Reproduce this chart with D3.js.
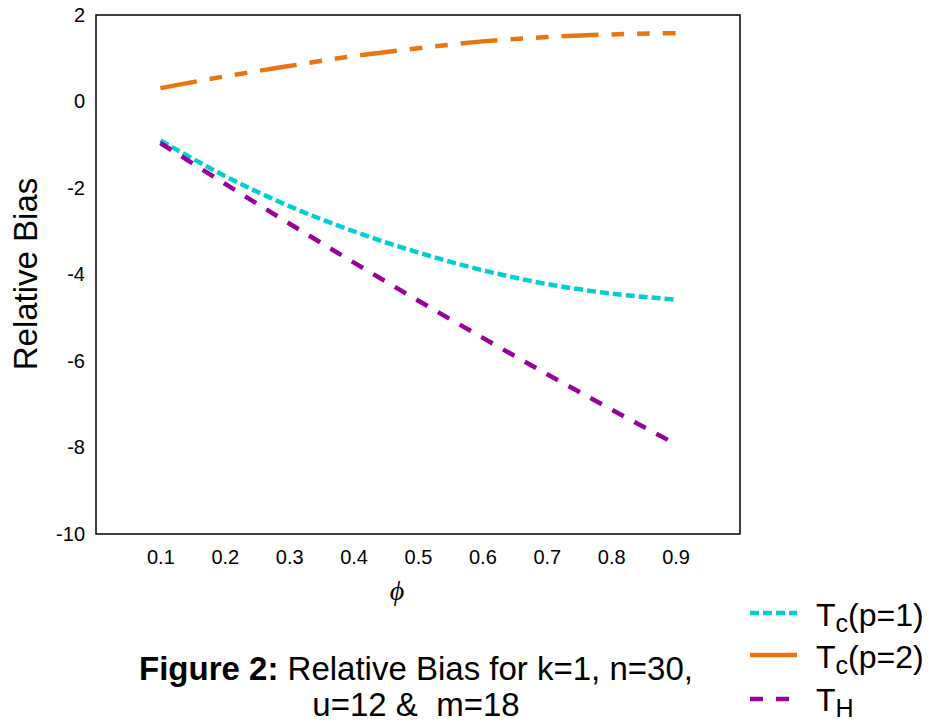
<!DOCTYPE html>
<html>
<head>
<meta charset="utf-8">
<script src="https://cdn.jsdelivr.net/npm/d3@7"></script>
<style>
  body { margin: 0; background: #fff; }
  text { font-family: "Liberation Sans", Arial, sans-serif; }
</style>
</head>
<body>
<svg id="chart" width="933" height="725"></svg>
<script>
const phi = [0.1, 0.2, 0.3, 0.4, 0.5, 0.6, 0.7, 0.8, 0.9];
const tcP1 = [-0.90, -1.72, -2.42, -3.00, -3.49, -3.90, -4.22, -4.44, -4.58];
const tcP2 = [0.31, 0.58, 0.82, 1.05, 1.23, 1.39, 1.49, 1.55, 1.58];
const tH   = [-0.96, -1.90, -2.82, -3.72, -4.60, -5.46, -6.30, -7.12, -7.92];
const yTicks = [2, 0, -2, -4, -6, -8, -10];
const xTicks = [0.1, 0.2, 0.3, 0.4, 0.5, 0.6, 0.7, 0.8, 0.9];

const series = [
  { name: "p=1", sub: "c", values: tcP1, color: "#00CED1", dash: "9,4", legendDash: "9,4" },
  { name: "p=2", sub: "c", values: tcP2, color: "#E87511", dash: "37,13,12.6,13,12.6,13", legendDash: null },
  { name: "", sub: "H", values: tH, color: "#990099", dash: "13,12", legendDash: "13,13" }
];

const svg = d3.select("#chart");
const mLeft = 96, mRight = 740, mTop = 15, mBottom = 534;
const x = d3.scaleLinear().domain([0, 1]).range([mLeft, mRight]);
const y = d3.scaleLinear().domain([-10, 2]).range([mBottom, mTop]);

// axes
const xAxis = svg.append("g").attr("transform", `translate(0,${mBottom})`)
  .call(d3.axisBottom(x).tickValues(xTicks).tickSize(0).tickPadding(16).tickFormat(d3.format(".1f")));
xAxis.select(".domain").remove();
xAxis.attr("font-size", 20).attr("font-family", null);
xAxis.selectAll("text").attr("fill", "#000");

const yAxis = svg.append("g").attr("transform", `translate(${mLeft},0)`)
  .call(d3.axisLeft(y).tickValues(yTicks).tickSize(0).tickPadding(11).tickFormat(d => String(d)));
yAxis.select(".domain").remove();
yAxis.attr("font-size", 20).attr("font-family", null);
yAxis.selectAll("text").attr("fill", "#000");

// frame
svg.append("rect").attr("x", mLeft).attr("y", mTop)
  .attr("width", mRight - mLeft).attr("height", mBottom - mTop)
  .attr("fill", "none").attr("stroke", "#000").attr("stroke-width", 1.5);

// lines
const line = d3.line().curve(d3.curveMonotoneX);
series.forEach(s => {
  svg.append("path")
    .attr("d", line(phi.map((p, i) => [x(p), y(s.values[i])])))
    .attr("fill", "none")
    .attr("stroke", s.color)
    .attr("stroke-width", 4.5)
    .attr("stroke-dasharray", s.dash);
});

// axis titles
svg.append("text").attr("transform", "translate(37,274) rotate(-90)")
  .attr("text-anchor", "middle").attr("font-size", 33).text("Relative Bias");
svg.append("text").attr("x", 397).attr("y", 600).attr("text-anchor", "middle")
  .attr("font-size", 28).attr("font-style", "italic")
  .style("font-family", "'Liberation Serif', 'Times New Roman', serif").text("\u03D5");

// legend
const legY = [613, 655, 699];
const legTextY = [626, 668, 711];
series.forEach((s, i) => {
  svg.append("line").attr("x1", 750).attr("x2", 797).attr("y1", legY[i]).attr("y2", legY[i])
    .attr("stroke", s.color).attr("stroke-width", 4.5)
    .attr("stroke-dasharray", s.legendDash);
  const t = svg.append("text").attr("x", 816).attr("y", legTextY[i]).attr("font-size", 32);
  t.append("tspan").text("T");
  t.append("tspan").attr("font-size", 25).attr("dy", 6).text(s.sub);
  if (s.name) t.append("tspan").attr("dy", -6).text("(" + s.name + ")");
});

// caption
const cap1 = svg.append("text").attr("x", 416).attr("y", 680).attr("text-anchor", "middle").attr("font-size", 33);
cap1.append("tspan").attr("font-weight", "bold").text("Figure 2:");
cap1.append("tspan").text(" Relative Bias for k=1, n=30,");
svg.append("text").attr("x", 416).attr("y", 716).attr("text-anchor", "middle").attr("font-size", 33)
  .attr("xml:space", "preserve").style("white-space", "pre").text("u=12 &  m=18");
</script>
</body>
</html>
